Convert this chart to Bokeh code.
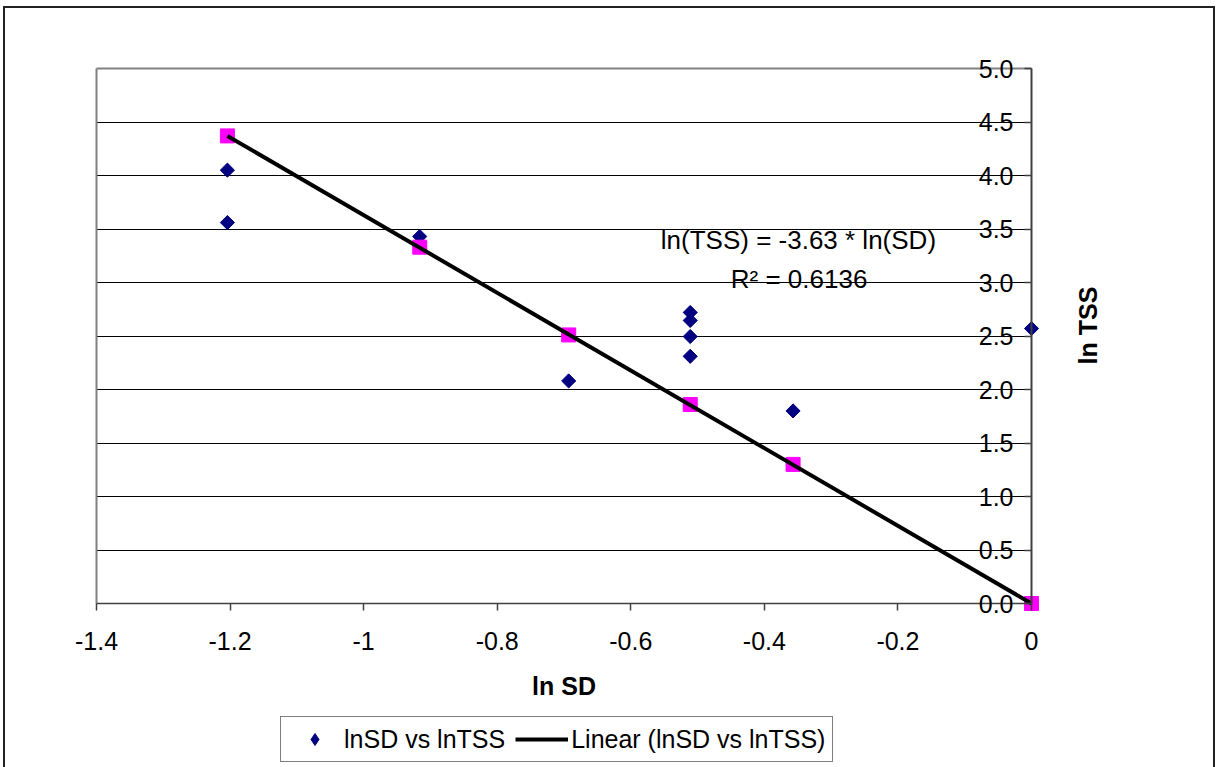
import math
from bokeh.plotting import figure
from bokeh.models import (Range1d, FixedTicker, Legend, LegendItem, Label,
                          ColumnDataSource, Grid)
from bokeh.embed import file_html
from bokeh.resources import INLINE

# ---- data ----
ln_sd = [-1.204, -1.204, -0.916, -0.693, -0.511, -0.511, -0.511, -0.511, -0.357, 0.0]
ln_tss = [4.05, 3.56, 3.43, 2.08, 2.72, 2.645, 2.495, 2.31, 1.80, 2.57]

pred_x = [-1.204, -0.916, -0.693, -0.511, -0.357, 0.0]
pred_y = [4.37, 3.33, 2.51, 1.86, 1.30, 0.0]

trend_x = [-1.204, 0.0]
trend_y = [4.37, 0.0]

x_ticks = [-1.4, -1.2, -1.0, -0.8, -0.6, -0.4, -0.2, 0.0]
x_labels = ["-1.4", "-1.2", "-1", "-0.8", "-0.6", "-0.4", "-0.2", "0"]
y_ticks = [0.0, 0.5, 1.0, 1.5, 2.0, 2.5, 3.0, 3.5, 4.0, 4.5, 5.0]
y_labels = ["0.0", "0.5", "1.0", "1.5", "2.0", "2.5", "3.0", "3.5", "4.0", "4.5", "5.0"]

eq_text = "ln(TSS) = -3.63 * ln(SD)"
r2_text = "R\u00b2 = 0.6136"
x_title = "ln SD"
y_title = "ln TSS"
series_name = "lnSD vs lnTSS"
trend_name = "Linear (lnSD vs lnTSS)"

FONT = "Liberation Sans"
FS = "25px"
NAVY = "#000080"
MAGENTA = "#FF00FF"

# ---- layout (page pixels) ----
X0, X1, Y0, Y1 = -1.4, 0.0, 0.0, 5.0
PA_L, PA_R, PA_T, PA_B = 96, 1031, 68, 603      # plot area
FR_L, FR_R, FR_T, FR_B = 66, 1213, 48, 767      # drawing frame (holds all texts)
CV_X, CV_Y = 5, 8                               # canvas origin on the page
SX = (PA_R - PA_L) / (X1 - X0)
SY = (PA_B - PA_T) / (Y1 - Y0)

p = figure(frame_width=FR_R - FR_L, frame_height=FR_B - FR_T,
           x_range=Range1d(X0 - (PA_L - FR_L) / SX, X1 + (FR_R - PA_R) / SX),
           y_range=Range1d(Y0 - (FR_B - PA_B) / SY, Y1 + (PA_T - FR_T) / SY),
           output_backend="svg", toolbar_location=None,
           x_axis_location="above", y_axis_location="left",
           min_border_left=FR_L - CV_X, min_border_right=0,
           min_border_top=FR_T - CV_Y, min_border_bottom=0)
p.styles = {"margin-left": "3px", "margin-top": "6px",
            "border-left": "2px solid #222222", "border-top": "2px solid #222222",
            "border-right": "2px solid #222222"}

p.background_fill_color = "white"
p.border_fill_color = "white"
p.outline_line_color = None

# x axis, crossing at y = 0, labels below the line
xa = p.xaxis[0]
xa.fixed_location = 0.0
xa.bounds = (X0, X1)
xa.ticker = FixedTicker(ticks=x_ticks)
xa.major_label_overrides = {t: l for t, l in zip(x_ticks, x_labels)}
xa.minor_tick_line_color = None
xa.major_tick_in = 7
xa.major_tick_out = 0
xa.axis_line_color = "#404040"
xa.axis_line_width = 1.5
xa.major_tick_line_color = "#404040"
xa.major_tick_line_width = 1.5
xa.major_label_text_font = FONT
xa.major_label_text_font_size = FS
xa.major_label_text_color = "black"
xa.major_label_standoff = -46

# y axis, crossing at x = 0, labels on its left
ya = p.yaxis[0]
ya.fixed_location = 0.0
ya.bounds = (Y0, Y1)
ya.ticker = FixedTicker(ticks=y_ticks)
ya.major_label_overrides = {t: l for t, l in zip(y_ticks, y_labels)}
ya.minor_tick_line_color = None
ya.major_tick_in = 0
ya.major_tick_out = 7
ya.axis_line_color = "#404040"
ya.axis_line_width = 2
ya.major_tick_line_color = "#404040"
ya.major_tick_line_width = 1.5
ya.major_label_text_font = FONT
ya.major_label_text_font_size = FS
ya.major_label_text_color = "black"
ya.major_label_standoff = 11

HAS_CROSS = "cross_bounds" in Grid.properties()

p.xgrid.grid_line_color = None
p.ygrid.ticker = FixedTicker(ticks=y_ticks[1:-1])
p.ygrid.grid_line_color = "black"
p.ygrid.grid_line_width = 1

top_border = Grid(dimension=1, ticker=FixedTicker(ticks=[Y1]),
                  grid_line_color="#808080", grid_line_width=2)
left_border = Grid(dimension=0, ticker=FixedTicker(ticks=[X0]),
                   grid_line_color="#808080", grid_line_width=2)
p.add_layout(top_border)
p.add_layout(left_border)

if HAS_CROSS:
    p.ygrid.cross_bounds = (X0, X1)
    top_border.cross_bounds = (X0, X1)
    left_border.cross_bounds = (Y0, Y1)
else:
    # fall back: plot-area rules as segments limited to the plot area
    p.ygrid.grid_line_color = None
    top_border.grid_line_color = None
    left_border.grid_line_color = None
    gy = y_ticks[1:-1]
    p.segment(x0=[X0] * len(gy), y0=gy, x1=[X1] * len(gy), y1=gy,
              line_color="black", line_width=1)
    p.segment(x0=[X0, X0], y0=[Y1, Y0], x1=[X1, X0], y1=[Y1, Y1],
              line_color="#808080", line_width=2)

# axis titles
p.add_layout(Label(x=(X0 + X1) / 2, y=Y0 - (685 - PA_B) / SY, text=x_title,
                   text_align="center", text_baseline="middle", text_font=FONT,
                   text_font_size=FS, text_font_style="bold", text_color="black"))
p.add_layout(Label(x=X1 + (1087 - PA_R) / SX, y=Y0 + (PA_B - 325) / SY, text=y_title,
                   angle=math.pi / 2, text_align="center", text_baseline="middle",
                   text_font=FONT, text_font_size=FS, text_font_style="bold",
                   text_color="black"))

src = ColumnDataSource(dict(x=ln_sd, y=ln_tss))
p.scatter("x", "y", source=src, marker="square", angle=math.pi / 4, size=10,
          fill_color=NAVY, line_color=NAVY)
# legend swatch only (no point of its own in the plot)
legend_pt = p.scatter(x=[math.nan], y=[math.nan], marker="diamond",
                      fill_color=NAVY, line_color=NAVY)

psrc = ColumnDataSource(dict(x=pred_x, y=pred_y))
p.scatter("x", "y", source=psrc, marker="square", size=14,
          fill_color=MAGENTA, line_color=MAGENTA)

tl = p.line(trend_x, trend_y, line_color="black", line_width=4)

# equation text
p.add_layout(Label(x=-0.349, y=3.393, text=eq_text, text_align="center",
                   text_baseline="middle", text_font=FONT, text_font_size="26px",
                   text_color="black"))
p.add_layout(Label(x=-0.348, y=3.03, text=r2_text, text_align="center",
                   text_baseline="middle", text_font=FONT, text_font_size="26px",
                   text_color="black"))

legend = Legend(items=[LegendItem(label=series_name, renderers=[legend_pt]),
                       LegendItem(label=trend_name, renderers=[tl])],
                orientation="horizontal", location=(280 - FR_L, FR_B - 762),
                glyph_width=53, glyph_height=30, padding=7, spacing=10,
                label_standoff=3, margin=0,
                label_text_font=FONT, label_text_font_size=FS,
                label_text_color="black",
                border_line_color="black", border_line_width=1.5,
                background_fill_color="white", background_fill_alpha=1.0)
p.add_layout(legend, "center")

open("out.html", "w").write(file_html(p, INLINE))
